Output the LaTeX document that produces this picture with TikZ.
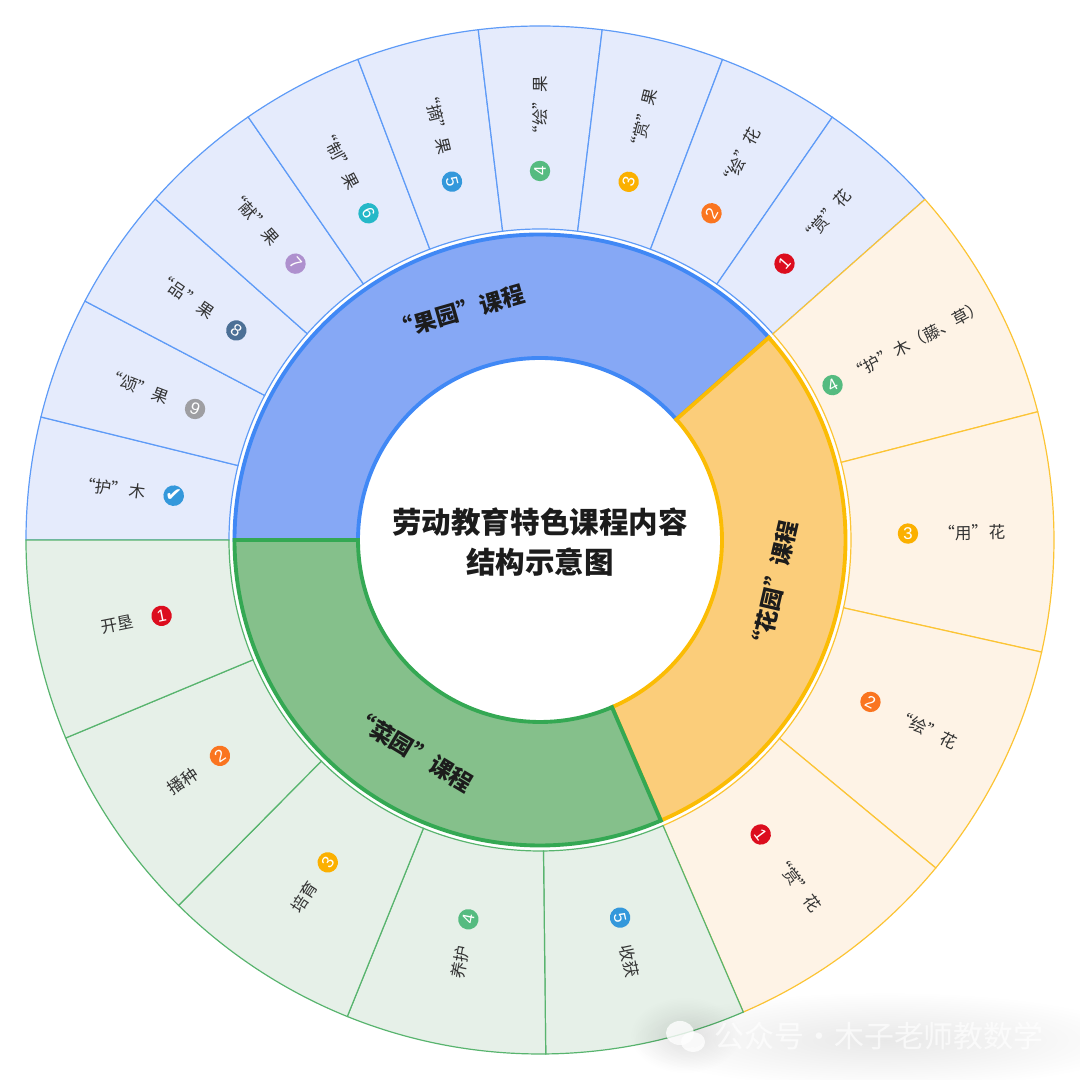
\documentclass[tikz,border=0pt]{standalone}
\usepackage{xcolor}
\usepackage{fontspec}
\usetikzlibrary{fadings}
\setmainfont{Noto Sans CJK SC}
\newfontfamily\badgefont{Liberation Sans}
\newfontfamily\tickfont{DejaVu Sans}
\definecolor{ink}{HTML}{1C1C1C}
\definecolor{soft}{HTML}{333333}
\definecolor{blueline}{HTML}{4088F5}
\definecolor{bluethin}{HTML}{5E9BF7}
\definecolor{bluefill}{HTML}{86A8F5}
\definecolor{bluepale}{HTML}{E5EBFC}
\definecolor{sunline}{HTML}{FBBC04}
\definecolor{sunthin}{HTML}{FCC434}
\definecolor{sunfill}{HTML}{FBCD7A}
\definecolor{sunpale}{HTML}{FEF3E6}
\definecolor{leafline}{HTML}{34A853}
\definecolor{leafthin}{HTML}{58B46E}
\definecolor{leaffill}{HTML}{85C08B}
\definecolor{leafpale}{HTML}{E6F0E8}
\definecolor{bred}{HTML}{DC0D1E}
\definecolor{borange}{HTML}{FA7520}
\definecolor{byellow}{HTML}{FBB000}
\definecolor{bgreen}{HTML}{55BB80}
\definecolor{bblue}{HTML}{3498DB}
\definecolor{bteal}{HTML}{25B8C8}
\definecolor{bpurple}{HTML}{AE90CE}
\definecolor{bslate}{HTML}{4C7096}
\definecolor{bgrey}{HTML}{9E9EA2}
\tikzfading[name=hazefade, inner color=transparent!0, outer color=transparent!100]
\tikzset{
  bluewedge/.style={draw=bluethin, fill=bluepale, line width=0.34pt},
  sunwedge/.style={draw=sunthin, fill=sunpale, line width=0.34pt},
  leafwedge/.style={draw=leafthin, fill=leafpale, line width=0.34pt},
  bluering/.style={draw=blueline, fill=bluefill, line width=1.1pt},
  sunring/.style={draw=sunline, fill=sunfill, line width=1.1pt},
  leafring/.style={draw=leafline, fill=leaffill, line width=1.1pt},
  item/.style={text=soft, font=\fontsize{4.7}{5}\selectfont, inner sep=0pt},
  badge/.style={circle, text=white, minimum size=5.8pt, inner sep=0pt, font=\badgefont\fontsize{4.8}{5}\selectfont},
  ringlab/.style={text=ink, font=\bfseries\fontsize{6.5}{7}\selectfont, inner sep=0pt},
  titlelab/.style={text=ink, font=\bfseries\fontsize{8.4}{11.4}\selectfont, align=center, inner sep=0pt},
  wmark/.style={text=white, font=\fontsize{8.5}{9}\selectfont, inner sep=0pt},
  haze/.style={fill=black, path fading=hazefade}
}
\newcommand{\WedgeAt}[3]{%
  \draw[#1] (#2:311) arc (#2:#3:311) -- (#3:514) arc (#3:#2:514) -- cycle;
}
\newcommand{\RingAt}[3]{%
  \draw[#1] (#2:182) arc (#2:#3:182) -- (#3:305.5) arc (#3:#2:305.5) -- cycle;
}
\newcommand{\ItemAt}[8]{%
  \node[item, rotate=#3] (#1) at (#2:#4) {#5};
  \node[badge, rotate=#3, fill=#7] (#1b) at (#2:#6) {#8};
}
\newcommand{\Verb}[2]{“#1”\hspace{0.05em}#2}

\begin{document}
\begin{tikzpicture}[x=0.01cm, y=0.01cm]
  \useasboundingbox (-540,-540) rectangle (540,540);

  \WedgeAt{bluewedge}{180}{166.15}
  \WedgeAt{bluewedge}{166.15}{152.3}
  \WedgeAt{bluewedge}{152.3}{138.45}
  \WedgeAt{bluewedge}{138.45}{124.6}
  \WedgeAt{bluewedge}{124.6}{110.75}
  \WedgeAt{bluewedge}{110.75}{96.9}
  \WedgeAt{bluewedge}{96.9}{83.05}
  \WedgeAt{bluewedge}{83.05}{69.2}
  \WedgeAt{bluewedge}{69.2}{55.35}
  \WedgeAt{bluewedge}{55.35}{41.5}

  \WedgeAt{sunwedge}{41.5}{14.45}
  \WedgeAt{sunwedge}{14.45}{-12.6}
  \WedgeAt{sunwedge}{-12.6}{-39.65}
  \WedgeAt{sunwedge}{-39.65}{-66.7}

  \WedgeAt{leafwedge}{-66.7}{-89.36}
  \WedgeAt{leafwedge}{-89.36}{-112.02}
  \WedgeAt{leafwedge}{-112.02}{-134.68}
  \WedgeAt{leafwedge}{-134.68}{-157.34}
  \WedgeAt{leafwedge}{-157.34}{-180}

  \RingAt{bluering}{180}{41.5}
  \RingAt{sunring}{41.5}{-66.7}
  \RingAt{leafring}{-66.7}{-180}

  \ItemAt{hu}{173.1}{-6.9}{431}{\Verb{护}{木}}{369}{bblue}{\tickfont\fontsize{5.6}{5}\selectfont ✔}
  \ItemAt{song}{159.2}{-20.8}{431}{\Verb{颂}{果}}{369}{bgrey}{9}
  \ItemAt{pin}{145.4}{-34.6}{431}{\Verb{品}{果}}{369}{bslate}{8}
  \ItemAt{xian}{131.5}{-48.5}{431}{\Verb{献}{果}}{369}{bpurple}{7}
  \ItemAt{zhi}{117.7}{-62.3}{431}{\Verb{制}{果}}{369}{bteal}{6}
  \ItemAt{zhai}{103.8}{-76.2}{431}{\Verb{摘}{果}}{369}{bblue}{5}
  \ItemAt{huiguo}{90}{90}{431}{\Verb{绘}{果}}{369}{bgreen}{4}
  \ItemAt{shangguo}{76.1}{76.1}{431}{\Verb{赏}{果}}{369}{byellow}{3}
  \ItemAt{huihua}{62.3}{62.3}{431}{\Verb{绘}{花}}{369}{borange}{2}
  \ItemAt{shanghua}{48.5}{48.5}{431}{\Verb{赏}{花}}{369}{bred}{1}

  \ItemAt{humu}{27.9}{27.9}{426}{\Verb{护}{木（藤、草）}}{331}{bgreen}{4}
  \ItemAt{yong}{1}{1}{432}{\Verb{用}{花}}{368}{byellow}{3}
  \ItemAt{hui}{-26.1}{-26.1}{430}{\Verb{绘}{花}}{368}{borange}{2}
  \ItemAt{shang}{-53.15}{-53.15}{429}{\Verb{赏}{花}}{368}{bred}{1}

  \ItemAt{ken}{-168.67}{11.33}{431}{开垦}{386}{bred}{1}
  \ItemAt{bo}{-146}{34}{431}{播种}{386}{borange}{2}
  \ItemAt{pei}{-123.36}{56.64}{428}{培育}{386}{byellow}{3}
  \ItemAt{yang}{-100.7}{79.3}{430}{养护}{386}{bgreen}{4}
  \ItemAt{shou}{-78.03}{-78.03}{431}{收获}{386}{bblue}{5}

  \node[ringlab, rotate=16] (guoyuan) at (-82,228) {“果园”课程};
  \node[ringlab, rotate=77] (huayuan) at (234,-48) {“花园”课程};
  \node[ringlab, rotate=-31] (caiyuan) at (-128,-210) {“菜园”课程};
  \node[titlelab] (title) at (0,-2) {劳动教育特色课程内容\\结构示意图};

  \fill[haze, opacity=0.09] (345,-500) ellipse (255 and 48);
  \fill[haze, opacity=0.10] (145,-495) ellipse (55 and 38);
  \fill[white, opacity=0.8] (140,-493) ellipse (14 and 12);
  \fill[white, opacity=0.8] (153,-502) ellipse (12 and 10);
  \node[wmark, opacity=0.65, anchor=west] (wm) at (174,-496) {公众号·木子老师教数学};
\end{tikzpicture}
\end{document}
